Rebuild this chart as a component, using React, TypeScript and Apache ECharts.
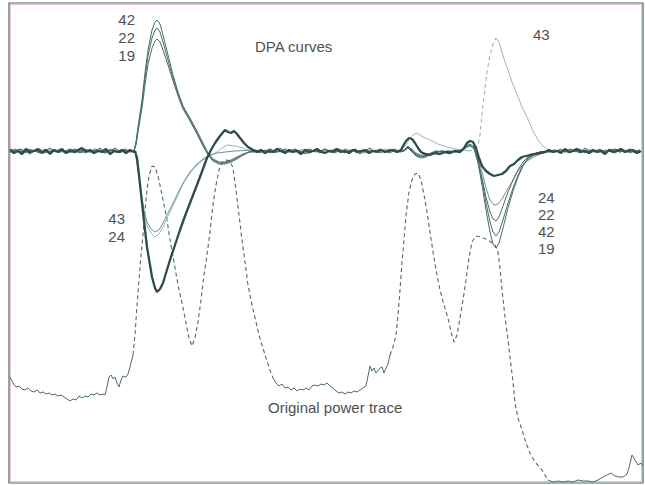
import React, { useEffect, useRef } from "react";
import * as echarts from "echarts";

type Pt = [number, number];

// ---------- Axis ranges (sample index / amplitude, arbitrary units) ----------
const T_MIN = 9;
const T_MAX = 643;
const V_MIN = -332;
const V_MAX = 148;

// ---------- Baseline noise (read from the flat parts of the DPA curves) ----------
const BOLD_NOISE_A = [1, -2, 0, -3, 2, -1, 0, 2, -2, 1, -3, 1, -1, 2, -2, 0, -1, 1, 3, -1, 1, -2, 0, -1, 2, -3, 0, -1, 1, -2, 1, -1];
const BOLD_NOISE_B = [-1, 1, -2, 0, -1, 2, 0, -2, 1, -1, 0, -3, 1, -1, 0, 2, -1, -2, 0, -1, 2, -1, 0, -2, 1, -1, 0, 1, -2, 0, -1, 1, -1, 0, 1, -1];
const BOLD_NOISE_C = [1, -1, 0, -2, 2, -1, 0, 2, -1, 0, -2, 1, -1, 0, -3, 1, -1, 0, 2, -1, 0, 1, -2, 0];

const N42_A = [2, -1, 2, 0, -3, 1, -1, 0, 3, -1, 1, -2, 0, 2, -1, 2, 0, -2, 1, -2, 0, 3, -1, 0, 1];
const N42_B = [0, -2, 1, -2, 0, 3, -1, 0, 2, -1, -3, 1, 0, -1, 2, 0, -2, 1, -2, 0, 2, -1, 0, 3, -1, 1, 0, -2, 1, 0];
const N42_C = [-1, 2, 0, -2, 1, -1, 3, 0, -1, 1, -2, 0, 2, -1, 0, 2, -2, 0];
const N22_A = [-1, 0, 2, -2, 1, 0, -2, 2, -1, 0, 1, -2, 2, 0, -2, 1, -1, 0, 3, -1, 1, 0, -2, 1, 0];
const N22_B = [1, 0, -2, 2, -1, 0, 2, -1, 1, 0, -2, -2, 1, 0, 2, -1, 2, 0, -1, 1, 0, -3, 1, -1, 0, 2, -1, 2, 0, -1];
const N22_C = [0, -1, 2, -1, 0, 2, -2, 1, 0, -1, 1, 0, -2, 1, -1, 2, 0, -1];
const N19_A = [0, 2, -1, 1, -2, 0, 2, -2, 0, 1, -1, 0, 2, -2, 1, 0, -1, 2, 0, -2, 1, -1, 0, 2, -1];
const N19_B = [-1, 1, 0, 2, -1, 0, -2, 1, 0, -2, 1, 2, -1, 0, -2, 1, 0, -1, 2, 0, 2, -1, 0, -1, 1, -2, 0, 1, -1, 0];
const N19_C = [1, 0, -1, 2, 0, -2, 1, -1, 0, 2, -1, 2, 0, -1, 1, -2, 0, 1];
const N43_A = [2, 0, -1, 1, -2, 1, 0, -1, 2, 1, -1, 0, -2, 1, 0, 2, -1, 0, 1, -1, 2, 0, -1, 1, 0];
const N43_B = [0, 1, -1, 2, 0, -1, 1, -2, 0, 1, 2, -1, 0, 1, -1, 0, 2, 1, -1, 0, 1, -2, 0, 1, -1, 0, 2, 1, 0, 1];
const N43_C = [1, -1, 0, 2, -1, 1, 0, -2, 1, 0, -1, 1, 2, 0, -1, 1, 0, -1];
const N24_A = [-1, 1, 0, -1, 2, 0, -2, 1, -1, 0, 2, -1, 1, 0, -1, -2, 1, 0, 1, -1, 0, 2, -1, 1, -1];
const N24_B = [1, -1, 0, 1, -2, 0, 1, -1, 2, 0, -1, 1, 0, -2, 1, -1, 0, 2, -1, 0, 1, -1, -2, 1, 0, 1, -1, 0, 2, -1];
const N24_C = [0, 1, -1, 0, 2, -1, 1, -2, 0, 1, -1, 0, 1, 2, -1, 0, -1, 1];

// ---------- DPA curve features ----------
const BOLD_F1: Pt[] = [[135,0],[137,-7],[139,-24],[142,-52],[145,-79],[147,-96],[150,-114],[152,-126],[155,-137],[157,-141],[160,-138],[163,-132],[166,-122],[170,-109],[175,-94],[180,-79],[185,-65],[190,-52],[195,-39],[200,-26],[204,-15],[207,-7],[211,1],[215,8],[220,15],[225,21],[228,19],[231,18],[234,20],[237,17],[240,13],[244,8],[248,4],[253,1]];
const BOLD_F2: Pt[] = [[401,1],[403,5],[406,10],[409,13],[412,12],[415,8],[418,3],[421,-1],[425,-3],[430,-4],[435,-2],[440,-3],[445,-1],[450,-2],[455,0],[460,-1],[464,3],[467,8],[470,10],[473,9],[476,3],[479,-7],[482,-15],[486,-20],[490,-23],[494,-25],[498,-24],[502,-23],[506,-20],[510,-15],[514,-13],[518,-9],[522,-6],[526,-5],[530,-4],[535,-3],[540,-2],[545,-1]];

const K42_L: Pt[] = [[134,0],[136,9],[138,24],[142,51],[145,78],[148,101],[152,121],[155,129],[157,131],[160,127],[163,116],[168,96],[173,76],[178,59],[183,45],[190,33],[197,20],[203,8],[208,-2],[213,-8],[219,-11],[225,-11],[231,-9],[237,-6],[243,-3],[249,-1]];
const K42_R: Pt[] = [[404,1],[408,5],[412,1],[416,-4],[421,-6],[426,-5],[431,-3],[436,-1],[442,0],[448,-1],[455,0],[462,1],[466,5],[470,7],[474,4],[478,-9],[482,-29],[486,-52],[490,-71],[493,-81],[496,-85],[499,-81],[503,-69],[508,-52],[513,-37],[518,-24],[523,-14],[528,-7],[534,-3],[540,-1]];
const K22_L: Pt[] = [[134,0],[136,8],[138,22],[142,48],[145,73],[148,95],[152,113],[155,121],[157,123],[160,119],[163,109],[168,91],[173,73],[178,57],[183,44],[190,31],[197,18],[203,6],[208,-3],[213,-9],[219,-12],[225,-12],[231,-10],[237,-7],[243,-4],[249,-1]];
const K22_R: Pt[] = [[404,0],[408,4],[412,0],[416,-3],[421,-5],[426,-5],[431,-2],[436,0],[442,-1],[448,0],[455,-1],[462,0],[466,4],[470,6],[474,3],[478,-11],[482,-27],[486,-46],[490,-61],[493,-68],[496,-70],[499,-66],[503,-55],[508,-41],[513,-29],[518,-19],[523,-11],[528,-6],[534,-3],[540,-1]];
const K19_L: Pt[] = [[134,0],[136,6],[138,19],[142,43],[145,66],[148,87],[152,103],[155,110],[157,112],[160,109],[163,101],[168,86],[173,70],[178,55],[183,42],[190,30],[197,17],[203,5],[208,-4],[213,-10],[219,-13],[225,-13],[231,-11],[237,-8],[243,-4],[249,-1]];
const K19_R: Pt[] = [[404,0],[408,3],[412,-1],[416,-5],[421,-7],[426,-6],[431,-3],[436,-1],[442,0],[448,-1],[455,0],[462,0],[466,4],[470,6],[474,3],[478,-12],[482,-34],[486,-59],[490,-81],[493,-93],[496,-97],[499,-92],[503,-77],[508,-57],[513,-40],[518,-26],[523,-15],[528,-8],[534,-4],[540,-1]];
const K43_L: Pt[] = [[135,0],[138,-19],[141,-44],[144,-63],[147,-75],[151,-82],[155,-86],[159,-83],[163,-76],[170,-61],[177,-46],[183,-33],[190,-22],[196,-15],[203,-9],[210,-5],[217,-1],[222,3],[227,6],[235,5],[243,3],[250,0]];
const K43_R: Pt[] = [[402,2],[406,6],[410,13],[414,17],[417,18],[423,14],[430,11],[438,7],[447,4],[455,2],[463,1],[468,0]];
const K43_RISE: Pt[] = [[468,0],[474,1],[478,6],[480,16],[483,46],[487,79],[490,96],[493,107],[496,113]];
const K43_FALL: Pt[] = [[496,113],[499,109],[502,99],[505,89],[508,81],[512,69],[518,54],[522,44],[527,34],[533,20],[538,11],[543,5],[548,1],[552,0]];
const K24_L: Pt[] = [[135,0],[138,-17],[141,-41],[144,-59],[147,-71],[151,-78],[155,-81],[159,-79],[163,-72],[170,-58],[177,-44],[183,-32],[190,-21],[196,-14],[203,-8],[210,-4],[217,-2],[225,-1],[235,0]];
const K24_R: Pt[] = [[404,1],[408,4],[412,2],[416,-2],[421,-4],[426,-4],[431,-2],[436,0],[442,-1],[448,0],[455,0],[462,0],[466,3],[470,5],[474,2],[478,-7],[482,-21],[486,-37],[490,-49],[494,-54],[498,-53],[502,-48],[507,-39],[512,-31],[517,-21],[522,-15],[527,-10],[532,-7],[538,-4],[545,-1]];

// ---------- Original power trace ----------
const POWER_FLAT_A: Pt[] = [[10,-226],[13,-232],[16,-236],[19,-235],[22,-238],[25,-239],[28,-237],[31,-240],[34,-241],[37,-239],[40,-242],[43,-241],[46,-243],[49,-242],[52,-244],[55,-243],[58,-245],[61,-244],[64,-246],[67,-248],[70,-250],[73,-248],[76,-249],[79,-245],[82,-247],[85,-245],[88,-246],[91,-243],[94,-244],[97,-242],[100,-244],[103,-243],[105,-244],[107,-236],[109,-226],[111,-224],[113,-228],[115,-226],[117,-232],[119,-236],[121,-229],[123,-225],[126,-226],[128,-223],[130,-216],[133,-204]];
const POWER_PEAKS_1: Pt[] = [[133,-204],[135,-184],[137,-154],[139,-129],[141,-104],[143,-84],[145,-59],[147,-39],[149,-25],[152,-15],[155,-16],[158,-25],[161,-39],[164,-54],[167,-69],[170,-89],[174,-111],[178,-134],[182,-152],[186,-172],[189,-187],[192,-195],[195,-187],[198,-171],[201,-149],[204,-124],[207,-104],[210,-81],[213,-54],[216,-34],[219,-19],[222,-12],[226,-9],[230,-10],[233,-17],[236,-39],[239,-64],[242,-89],[245,-111],[248,-134],[252,-154],[256,-171],[259,-184],[262,-194],[266,-207],[270,-219],[273,-227]];
const POWER_FLAT_B: Pt[] = [[273,-227],[276,-232],[279,-235],[282,-233],[285,-237],[288,-236],[291,-239],[294,-237],[297,-240],[300,-238],[303,-239],[306,-237],[309,-239],[312,-235],[315,-234],[318,-235],[321,-233],[324,-234],[327,-232],[330,-235],[333,-237],[336,-240],[339,-242],[342,-241],[345,-243],[348,-241],[351,-242],[354,-240],[357,-241],[360,-239],[363,-237],[366,-235],[368,-225],[370,-215],[372,-220],[374,-217],[376,-222],[378,-220],[380,-217],[382,-216],[384,-222],[386,-217],[388,-213],[390,-204]];
const POWER_PEAKS_2: Pt[] = [[390,-204],[393,-196],[396,-184],[398,-164],[400,-139],[402,-111],[404,-89],[406,-64],[409,-41],[412,-29],[415,-23],[418,-22],[421,-29],[424,-44],[427,-61],[430,-81],[433,-101],[436,-119],[440,-139],[444,-154],[448,-167],[451,-181],[454,-191],[457,-184],[460,-167],[463,-149],[466,-129],[469,-107],[472,-91],[476,-85],[481,-86],[486,-88],[491,-91],[495,-94],[498,-101],[500,-117],[502,-139],[505,-166],[508,-189],[510,-206],[513,-231],[515,-252],[518,-267],[522,-279],[526,-292],[530,-302],[535,-311],[542,-319],[548,-329]];
const POWER_FLAT_C: Pt[] = [[548,-329],[553,-331],[558,-330],[563,-331],[568,-330],[573,-331],[578,-329],[583,-330],[588,-330],[593,-331],[598,-329],[603,-326],[607,-324],[611,-322],[615,-325],[619,-326],[623,-326],[627,-323],[629,-317],[632,-304],[635,-309],[638,-314],[641,-312],[643,-315]];

// ---------- Labels ----------
const LEFT_POS_LABELS = ["42", "22", "19"];
const LEFT_NEG_LABELS = ["43", "24"];
const RIGHT_POS_LABELS = ["43"];
const RIGHT_NEG_LABELS = ["24", "22", "42", "19"];
const TITLE_DPA = "DPA curves";
const TITLE_POWER = "Original power trace";

// builds [t, v] pairs from a noise list sampled every `step` samples from `start`
const baseline = (start: number, step: number, vals: number[]): Pt[] =>
  vals.map((v, i) => [start + i * step, v] as Pt);

const thinCurve = (a: number[], l: Pt[], b: number[], r: Pt[], c: number[]): Pt[] => [
  ...baseline(10, 5, a),
  ...l,
  ...baseline(255, 5, b),
  ...r,
  ...baseline(555, 5, c),
];

const BOLD: Pt[] = [
  ...baseline(10, 4, BOLD_NOISE_A),
  ...BOLD_F1,
  ...baseline(257, 4, BOLD_NOISE_B),
  ...BOLD_F2,
  ...baseline(549, 4, BOLD_NOISE_C),
];

const C_BOLD = "#2d4b4b";
const C_DARK = "#4b6b6b";
const C_MID = "#6f9292";
const C_LIGHT = "#94b8b8";
const C_POWER = "#4d6b6b";
const C_TEXT = "#4f5050";
const FONT = '"Liberation Sans", Arial, Helvetica, sans-serif';

const line = (name: string, data: Pt[], color: string, width: number, type: any = "solid", z = 2) => ({
  type: "line",
  name,
  data,
  showSymbol: false,
  symbol: "none",
  silent: true,
  z,
  lineStyle: { color, width, type },
});

const txt = (text: string, x: number, y: number, align: string) => ({
  type: "text",
  x,
  y,
  silent: true,
  z: 10,
  style: {
    text,
    fill: C_TEXT,
    font: `15px ${FONT}`,
    textAlign: align,
    textVerticalAlign: "middle",
  },
});

export default function App() {
  const ref = useRef<HTMLDivElement>(null);
  useEffect(() => {
    document.body.style.margin = "0";
    const chart = echarts.init(ref.current!, null, { renderer: "svg" });
    const option: any = {
      animation: false,
      backgroundColor: "#ffffff",
      grid: {
        left: 9,
        right: 2,
        top: 3,
        bottom: 2,
        show: true,
        borderColor: "#476a6a",
        borderWidth: 1.2,
        backgroundColor: "transparent",
      },
      xAxis: { type: "value", min: T_MIN, max: T_MAX, show: false },
      yAxis: { type: "value", min: V_MIN, max: V_MAX, show: false },
      series: [
        line("Original power trace", POWER_FLAT_A, C_POWER, 1, "solid", 1),
        line("Original power trace", POWER_PEAKS_1, C_POWER, 1.1, [4, 3], 1),
        line("Original power trace", POWER_FLAT_B, C_POWER, 1, "solid", 1),
        line("Original power trace", POWER_PEAKS_2, C_POWER, 1.1, [4, 3], 1),
        line("Original power trace", POWER_FLAT_C, C_POWER, 1, "solid", 1),
        line("43", thinCurve(N43_A, K43_L, N43_B, K43_R, []), C_LIGHT, 1, "solid", 2),
        line("43", K43_RISE, C_LIGHT, 1.1, [4, 3], 2),
        line("43", [...K43_FALL, ...baseline(555, 5, N43_C)], C_LIGHT, 1, "solid", 2),
        line("24", thinCurve(N24_A, K24_L, N24_B, K24_R, N24_C), C_MID, 1, "solid", 3),
        line("42", thinCurve(N42_A, K42_L, N42_B, K42_R, N42_C), C_DARK, 1, "solid", 3),
        line("22", thinCurve(N22_A, K22_L, N22_B, K22_R, N22_C), C_DARK, 1, "solid", 3),
        line("19", thinCurve(N19_A, K19_L, N19_B, K19_R, N19_C), C_DARK, 1, "solid", 3),
        line("correct key", BOLD, C_BOLD, 2.3, "solid", 4),
      ],
      graphic: [
        {
          type: "rect",
          silent: true,
          z: 0,
          shape: { x: 10.5, y: 4.5, width: 631, height: 477 },
          style: { fill: "none", stroke: "#f2c4c4", lineWidth: 1 },
        },
        ...LEFT_POS_LABELS.map((s, i) => txt(s, 135, 19 + i * 18, "right")),
        txt(TITLE_DPA, 255, 46, "left"),
        ...LEFT_NEG_LABELS.map((s, i) => txt(s, 125, 218 + i * 18, "right")),
        ...RIGHT_POS_LABELS.map((s) => txt(s, 533, 34, "left")),
        ...RIGHT_NEG_LABELS.map((s, i) => txt(s, 538, 197 + i * 17, "left")),
        txt(TITLE_POWER, 268, 407, "left"),
      ],
    };
    chart.setOption(option);
    return () => chart.dispose();
  }, []);
  return (
    <div
      ref={ref}
      style={{ width: 645, height: 485, position: "absolute", left: 0, top: 0, background: "#fff" }}
    />
  );
}
